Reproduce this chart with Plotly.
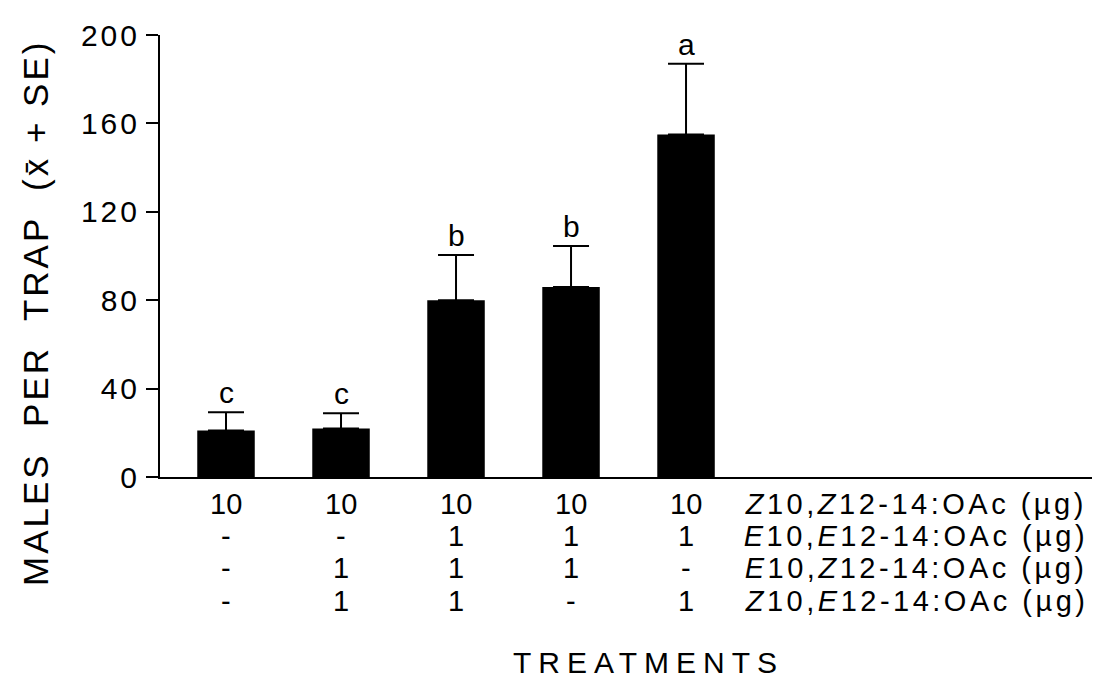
import plotly.graph_objects as go

# Mean males per trap and standard errors for each blend
treatments = [0, 1, 2, 3, 4]
means = [21, 22, 80, 86, 155]
se = [8.3, 6.8, 20.5, 18.5, 32]
letters = ["c", "c", "b", "b", "a"]

# Blend composition table (µg of each compound per treatment)
compounds = [
    "<i>Z</i>10,<i>Z</i>12-14:OAc (µg)",
    "<i>E</i>10,<i>E</i>12-14:OAc (µg)",
    "<i>E</i>10,<i>Z</i>12-14:OAc (µg)",
    "<i>Z</i>10,<i>E</i>12-14:OAc (µg)",
]
doses = [
    ["10", "10", "10", "10", "10"],
    ["-", "-", "1", "1", "1"],
    ["-", "1", "1", "1", "-"],
    ["-", "1", "1", "-", "1"],
]
y_ticks = [0, 40, 80, 120, 160, 200]

W, H = 1099, 688
L, R, T, B = 160, 7, 35, 211
PW, PH = W - L - R, H - T - B
FONT = "Liberation Sans, Arial, Helvetica, sans-serif"


def px_x(xp):
    return (xp - L) / PW


def px_y(yp):
    return (H - B - yp) / PH


fig = go.Figure()
fig.add_trace(go.Bar(
    x=treatments, y=means, width=0.5,
    marker=dict(color="black", line=dict(width=0)),
    error_y=dict(type="data", array=se, symmetric=False, arrayminus=[0] * 5,
                 color="black", thickness=2, width=18),
    hoverinfo="skip",
))

annotations = []
spacing = {}

# significance letters above the error bars
for xi, m, e, lt in zip(treatments, means, se, letters):
    annotations.append(dict(x=xi, y=m + e, xref="x", yref="y", text=lt,
                            showarrow=False, yanchor="bottom", yshift=1,
                            font=dict(size=30, color="black", family=FONT)))

row_y = [504, 536, 568, 601]
for r, (row, comp) in enumerate(zip(doses, compounds)):
    for xi, d in zip(treatments, row):
        annotations.append(dict(x=xi, y=px_y(row_y[r]), xref="x", yref="paper",
                                text=d, showarrow=False, yanchor="middle",
                                font=dict(size=29, color="black", family=FONT)))
    spacing[len(annotations)] = 3.5
    annotations.append(dict(x=px_x(916), y=px_y(row_y[r]), xref="paper", yref="paper",
                            text=comp, showarrow=False, yanchor="middle", xanchor="center",
                            font=dict(size=29, color="black", family=FONT)))

spacing[len(annotations)] = 7
annotations.append(dict(x=px_x(648), y=px_y(662), xref="paper", yref="paper",
                        text="TREATMENTS", showarrow=False, yanchor="middle",
                        font=dict(size=30, color="black", family=FONT)))

spacing[len(annotations)] = 3
annotations.append(dict(x=px_x(35), y=px_y(313), xref="paper", yref="paper",
                        text="MALES  PER  TRAP  (x̄ + SE)", showarrow=False,
                        textangle=-90, xanchor="center", yanchor="middle",
                        font=dict(size=35, color="black", family=FONT)))

fig.update_layout(
    width=W, height=H,
    margin=dict(l=L, r=R, t=T, b=B, pad=0),
    paper_bgcolor="white", plot_bgcolor="white",
    showlegend=False,
    annotations=annotations,
    xaxis=dict(range=[-0.574, 7.53], showticklabels=False, ticks="",
               showgrid=False, zeroline=False, showline=True,
               linecolor="black", linewidth=2, fixedrange=True),
    yaxis=dict(range=[0, 200], tickvals=y_ticks, ticks="outside", ticklen=12,
               tickwidth=2, tickcolor="black", showgrid=False, zeroline=False,
               showline=True, linecolor="black", linewidth=2, ticklabelstandoff=0,
               tickfont=dict(size=30, color="black", family=FONT), fixedrange=True),
)

rules = [".ytick text { letter-spacing: 3px; }"]
for idx, sp in spacing.items():
    rules.append(f'.annotation[data-index="{idx}"] .annotation-text {{ letter-spacing: {sp}px; }}')
css = "\\n".join(rules)
post = ("var s = document.createElement('style');"
        f"s.textContent = '{css}';"
        "document.head.appendChild(s);")

fig.write_html("out.html", post_script=post, config={"displayModeBar": False})
